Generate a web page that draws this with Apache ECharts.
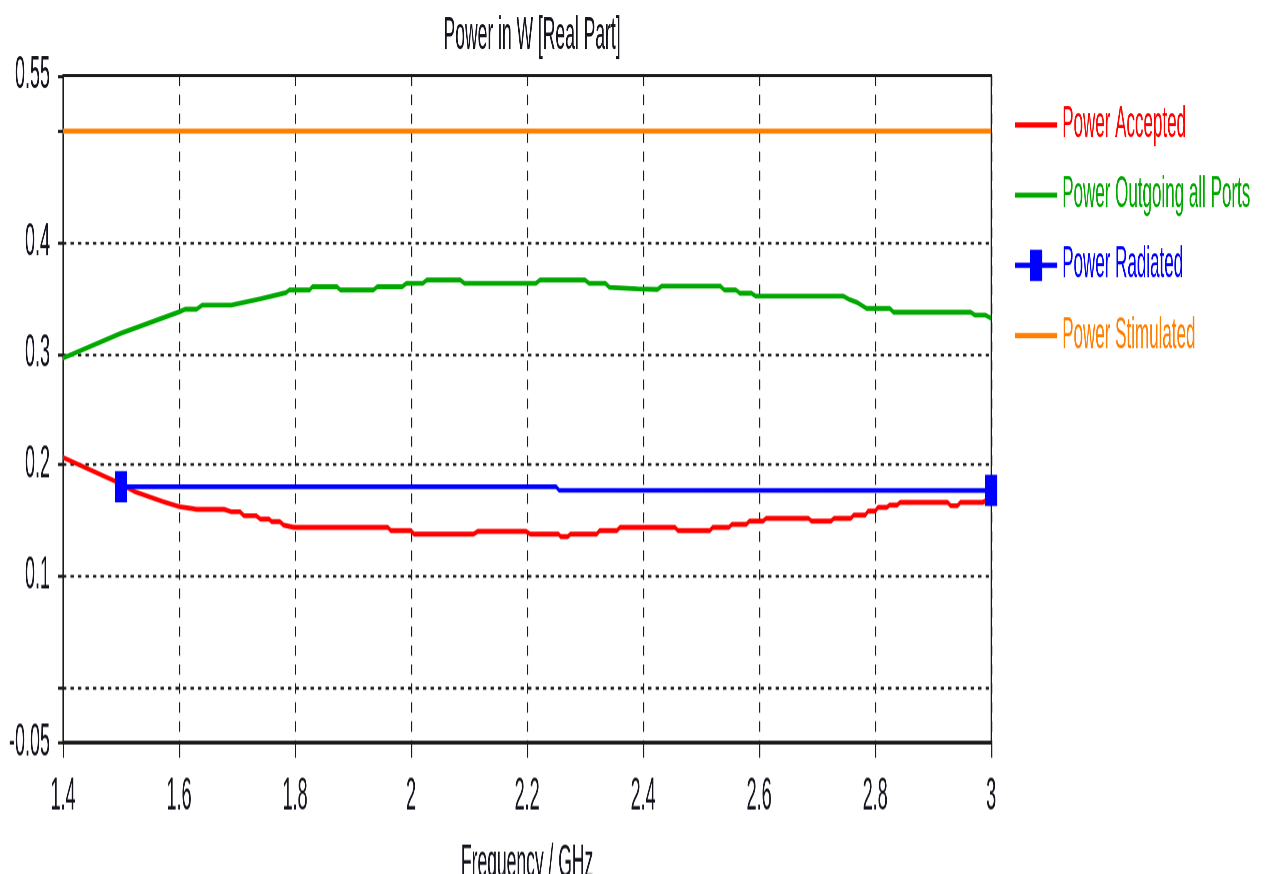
<!DOCTYPE html>
<html>
<head>
<meta charset="utf-8">
<script src="https://cdn.jsdelivr.net/npm/echarts@6/dist/echarts.min.js"></script>
<style>
  html, body { margin: 0; padding: 0; background: #ffffff; width: 1271px; height: 874px; overflow: hidden; }
  #chart { width: 1271px; transform-origin: 0 0; }
</style>
</head>
<body>
<div id="chart"></div>
<script>
// Power balance of the structure, real part, 1.4 - 3 GHz
const acceptedFreq  = [1.4, 1.492, 1.524, 1.573, 1.601, 1.62, 1.63, 1.678, 1.69, 1.705, 1.712, 1.733, 1.74, 1.755, 1.76, 1.774, 1.78, 1.798, 1.96, 1.965, 2.0, 2.005, 2.108, 2.115, 2.198, 2.205, 2.254, 2.258, 2.27, 2.275, 2.32, 2.325, 2.355, 2.36, 2.455, 2.46, 2.515, 2.52, 2.548, 2.553, 2.578, 2.583, 2.607, 2.612, 2.685, 2.69, 2.724, 2.729, 2.758, 2.763, 2.783, 2.788, 2.8, 2.805, 2.82, 2.825, 2.838, 2.843, 2.925, 2.93, 2.942, 2.947, 2.985, 3.0];
const acceptedPower = [0.2063, 0.1844, 0.1754, 0.1664, 0.1619, 0.1605, 0.1595, 0.1595, 0.1574, 0.1574, 0.1538, 0.1538, 0.1508, 0.1508, 0.1484, 0.1484, 0.1454, 0.1433, 0.1433, 0.1403, 0.1403, 0.1373, 0.1373, 0.1397, 0.1397, 0.1373, 0.1373, 0.1349, 0.1349, 0.1373, 0.1373, 0.1403, 0.1403, 0.1433, 0.1433, 0.1403, 0.1403, 0.1433, 0.1433, 0.146, 0.146, 0.149, 0.149, 0.1514, 0.1514, 0.149, 0.149, 0.1514, 0.1514, 0.1544, 0.1544, 0.158, 0.158, 0.1613, 0.1613, 0.1634, 0.1634, 0.1658, 0.1658, 0.1628, 0.1628, 0.1658, 0.1658, 0.1694];

const outgoingFreq  = [1.4, 1.5, 1.601, 1.61, 1.63, 1.64, 1.69, 1.74, 1.784, 1.79, 1.825, 1.83, 1.872, 1.878, 1.935, 1.942, 1.985, 1.992, 2.02, 2.027, 2.085, 2.092, 2.215, 2.222, 2.3, 2.307, 2.335, 2.342, 2.39, 2.425, 2.432, 2.533, 2.54, 2.56, 2.567, 2.587, 2.594, 2.745, 2.755, 2.77, 2.785, 2.795, 2.825, 2.832, 2.965, 2.972, 2.99, 3.0];
const outgoingPower = [0.2957, 0.318, 0.3374, 0.3396, 0.3396, 0.3434, 0.3434, 0.349, 0.3545, 0.357, 0.357, 0.36, 0.36, 0.357, 0.357, 0.36, 0.36, 0.363, 0.363, 0.366, 0.366, 0.363, 0.363, 0.366, 0.366, 0.363, 0.363, 0.3594, 0.358, 0.3575, 0.3605, 0.3605, 0.357, 0.357, 0.354, 0.354, 0.3515, 0.3515, 0.3486, 0.3455, 0.3404, 0.3404, 0.3404, 0.3369, 0.3369, 0.3344, 0.3344, 0.3315];

const radiatedFreq  = [1.5, 2.25, 2.255, 3.0];
const radiatedPower = [0.1799, 0.1799, 0.1768, 0.1766];

const stimulatedFreq  = [1.4, 3.0];
const stimulatedPower = [0.5, 0.5];

const freqTicks  = [1.4, 1.6, 1.8, 2, 2.2, 2.4, 2.6, 2.8, 3];
const powerTicks = [-0.05, 0, 0.1, 0.2, 0.3, 0.4, 0.5, 0.55];
const powerLabels = [-0.05, 0.1, 0.2, 0.3, 0.4, 0.55];

const seriesNames = ['Power Accepted', 'Power Outgoing all Ports', 'Power Radiated', 'Power Stimulated'];
const seriesColors = ['#ff0000', '#00a800', '#0000ff', '#ff8000'];

// The plot is drawn flat and stretched vertically, giving the tall, narrow lettering.
const SY = 2.6;
const W = 1271, H = 874;
const dom = document.getElementById('chart');
dom.style.height = (H / SY) + 'px';
dom.style.transform = 'scaleY(' + SY + ')';

const FONT = "'Liberation Sans', Arial, sans-serif";
const INK = '#14141e';
const FRAME = '#1a1a1a';

function pairs(xs, ys) { return xs.map((x, i) => [x, ys[i]]); }

const radiatedData = pairs(radiatedFreq, radiatedPower).map((p, i, arr) =>
  (i === 0 || i === arr.length - 1) ? { value: p } : { value: p, symbol: 'none' });

// dotted grid rows at the inner ticks only; the outer ones sit on the frame
const gridRowColors = powerTicks.map((v, i) =>
  (i === 0 || i === powerTicks.length - 1) ? 'rgba(0,0,0,0)' : FRAME);

const chart = echarts.init(dom, null, { renderer: 'canvas', devicePixelRatio: SY });

chart.setOption({
  animation: false,
  backgroundColor: '#ffffff',
  textStyle: { fontFamily: FONT },
  title: {
    text: 'Power in W [Real Part]',
    left: 527,
    textAlign: 'center',
    top: 0,
    textStyle: { fontFamily: FONT, fontSize: 17.5, fontWeight: 'normal', color: INK }
  },
  grid: {
    left: 63,
    right: W - 991,
    top: 75.5 / SY,
    bottom: (H - 742) / SY,
    outerBoundsMode: 'none',
    containLabel: false,
    show: true,
    borderColor: FRAME,
    borderWidth: 1.1,
    backgroundColor: 'transparent'
  },
  legend: {
    orient: 'vertical',
    left: 1009,
    top: 34,
    itemWidth: 42,
    itemHeight: 15,
    itemGap: 9.0,
    textStyle: { fontFamily: FONT, fontSize: 17, lineHeight: 18 },
    data: seriesNames.map((n, i) => ({
      name: n,
      textStyle: { color: seriesColors[i] },
      itemStyle: i === 2 ? { color: seriesColors[i] } : { opacity: 0 }
    })),
    selectedMode: false
  },
  xAxis: {
    type: 'value',
    min: freqTicks[0],
    max: freqTicks[freqTicks.length - 1],
    interval: 0.2,
    name: 'Frequency / GHz',
    nameLocation: 'middle',
    nameGap: 38,
    nameTextStyle: { fontFamily: FONT, fontSize: 17.5, color: INK },
    axisLine: { show: true, onZero: false, lineStyle: { color: FRAME, width: 1.4 } },
    axisTick: { show: true, inside: false, length: 6, lineStyle: { color: FRAME, width: 1.2 } },
    axisLabel: { margin: 12, fontFamily: FONT, fontSize: 18, color: INK },
    splitLine: { show: true, lineStyle: { color: FRAME, width: 1.2, type: [4, 3.3] } }
  },
  yAxis: {
    type: 'value',
    min: -0.05,
    max: 0.55,
    interval: 0.05,
    axisLine: { show: true, onZero: false, lineStyle: { color: FRAME, width: 1.2 } },
    axisTick: { show: true, inside: false, length: 5, customValues: powerTicks, lineStyle: { color: FRAME, width: 1.2 } },
    axisLabel: { margin: 13, fontFamily: FONT, fontSize: 18, color: INK, customValues: powerLabels },
    splitLine: { show: true, lineStyle: { color: gridRowColors, width: 1.1, type: [3.3, 4.2] } }
  },
  series: [
    {
      name: seriesNames[0], type: 'line', symbol: 'none', z: 3,
      lineStyle: { color: seriesColors[0], width: 1.9 }, itemStyle: { color: seriesColors[0] },
      data: pairs(acceptedFreq, acceptedPower)
    },
    {
      name: seriesNames[1], type: 'line', symbol: 'none', z: 3,
      lineStyle: { color: seriesColors[1], width: 1.9 }, itemStyle: { color: seriesColors[1] },
      data: pairs(outgoingFreq, outgoingPower)
    },
    {
      name: seriesNames[2], type: 'line', symbol: 'rect', symbolSize: [12, 12], showSymbol: true, z: 4,
      lineStyle: { color: seriesColors[2], width: 1.8 }, itemStyle: { color: seriesColors[2] },
      data: radiatedData
    },
    {
      name: seriesNames[3], type: 'line', symbol: 'none', z: 3,
      lineStyle: { color: seriesColors[3], width: 2 }, itemStyle: { color: seriesColors[3] },
      data: pairs(stimulatedFreq, stimulatedPower)
    }
  ]
});
</script>
</body>
</html>
